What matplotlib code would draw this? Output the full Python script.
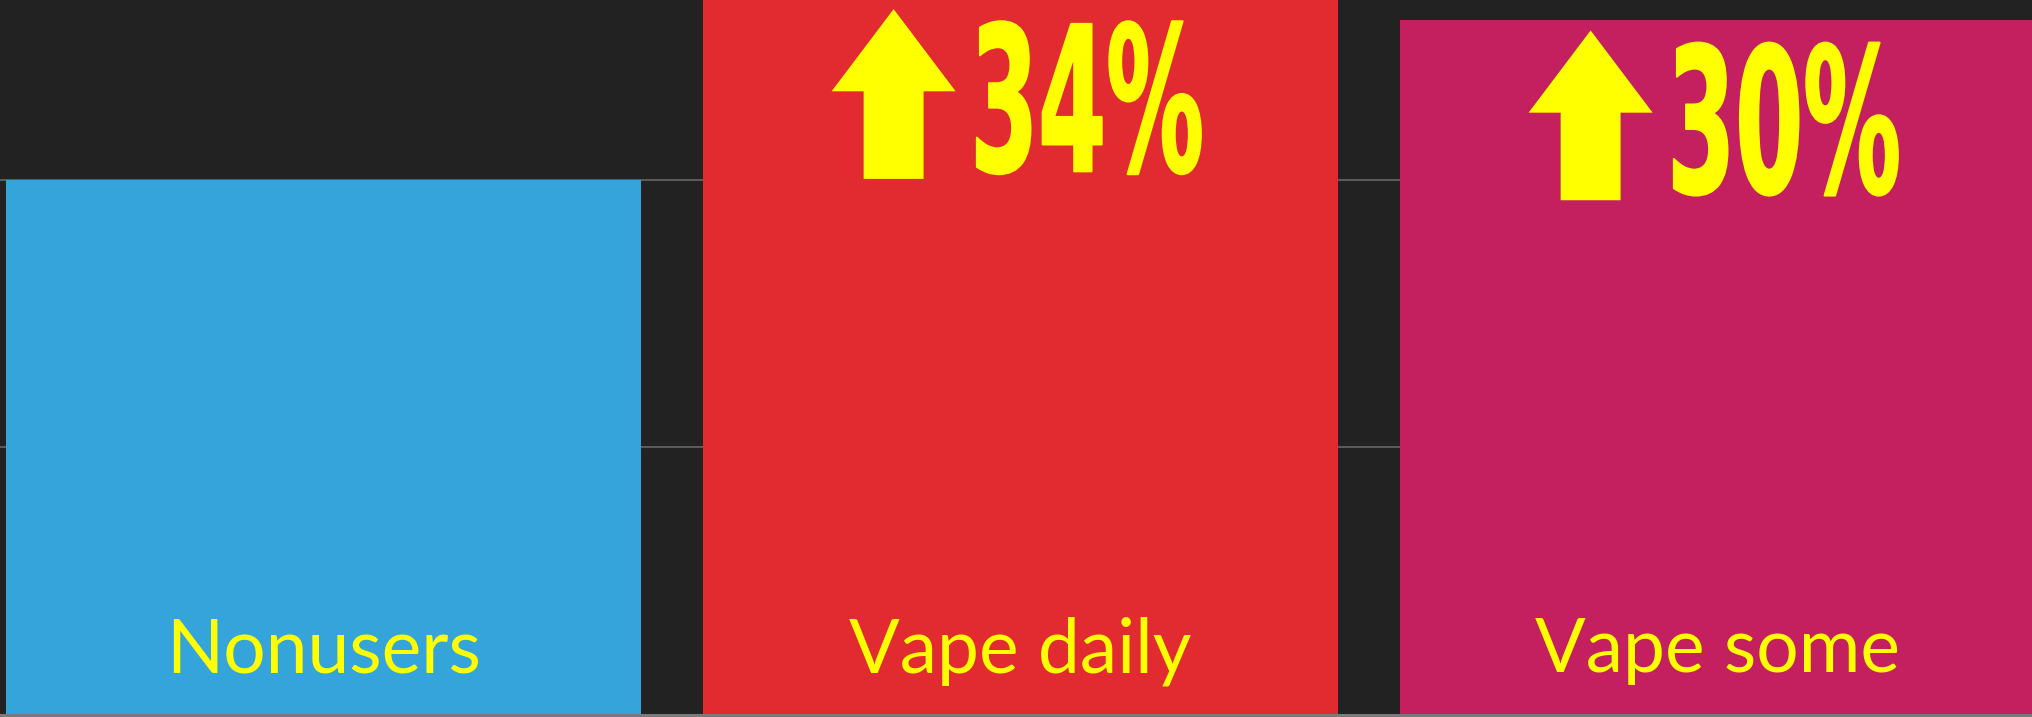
import numpy as np
import matplotlib
matplotlib.use("Agg")
import matplotlib.pyplot as plt
from matplotlib import font_manager
from matplotlib.font_manager import FontProperties
from matplotlib.textpath import TextPath
from matplotlib.patches import PathPatch, FancyArrow
from matplotlib.transforms import Affine2D

# data
categories = ["Nonusers", "Vape daily", "Vape some"]
values = [1.00, 1.34, 1.30]          # relative to nonusers
changes = [None, "34%", "30%"]
colors = ["#34A4DB", "#E22A31", "#C4205F"]

BG = "#222222"
YELLOW = "#FFFF00"

fig = plt.figure(figsize=(20.33, 7.17), dpi=100, facecolor=BG)
ax = fig.add_axes([0, 2.5 / 717, 1, 714.5 / 717])
ax.set_facecolor(BG)

x = np.arange(len(categories))
ax.bar(x, values, width=0.911, color=colors, zorder=2)

ax.set_xlim(-0.4641, 2.4527)
ax.set_ylim(0, 1.338)
ax.set_yticks([0.5, 1.0])
ax.yaxis.grid(True, color="#5a5a5a", lw=1.5, zorder=0)
ax.set_axisbelow(True)
ax.tick_params(left=False, bottom=False, labelleft=False, labelbottom=False)
for s in ["left", "right", "top"]:
    ax.spines[s].set_visible(False)
ax.spines["bottom"].set_color("#7a7a7a")
ax.spines["bottom"].set_linewidth(2.2)

# category labels
for xi, cat in zip(x, categories):
    ax.text(xi, 0.079, cat, ha="center", va="baseline", fontsize=54,
            color=YELLOW, family=["Lato", "DejaVu Sans"], zorder=3)

# condensed bold font for the big numbers
pct_fp = FontProperties(family="Liberation Sans Narrow", weight="bold")
try:
    font_manager.findfont(pct_fp, fallback_to_default=False)
except Exception:
    pct_fp = FontProperties(family="DejaVu Sans", weight="bold")


def draw_pct(s, xd, yd, w=226, h=155, stroke=2):
    # squeeze a bold glyph run into a w x h pixel box (left edge at xd)
    tp = TextPath((0, 0), s, size=100, prop=pct_fp)
    bb = tp.get_extents()
    px, py = ax.transData.transform((xd, yd))
    tr = (Affine2D().translate(-bb.x0, -(bb.y0 + bb.y1) / 2)
          .scale((w - stroke) / bb.width, (h - stroke) / bb.height)
          .translate(px + stroke / 2, py))
    p = PathPatch(tp, fc=YELLOW, ec=YELLOW, lw=stroke * 0.72,
                  joinstyle="round", zorder=4)
    ax.add_patch(p)
    p.set_transform(tr)


for xi, v, ch in zip(x, values, changes):
    if ch is None:
        continue
    tip = v - 0.019
    tail = tip - 0.318
    ax.add_patch(FancyArrow(xi - 0.182, tail, 0, tip - tail, width=0.086,
                            head_width=0.178, head_length=0.154,
                            length_includes_head=True, color=YELLOW,
                            lw=0, zorder=4))
    draw_pct(ch, xi - 0.064, v - 0.185)

fig.savefig("out.png", dpi=100, facecolor=BG)
